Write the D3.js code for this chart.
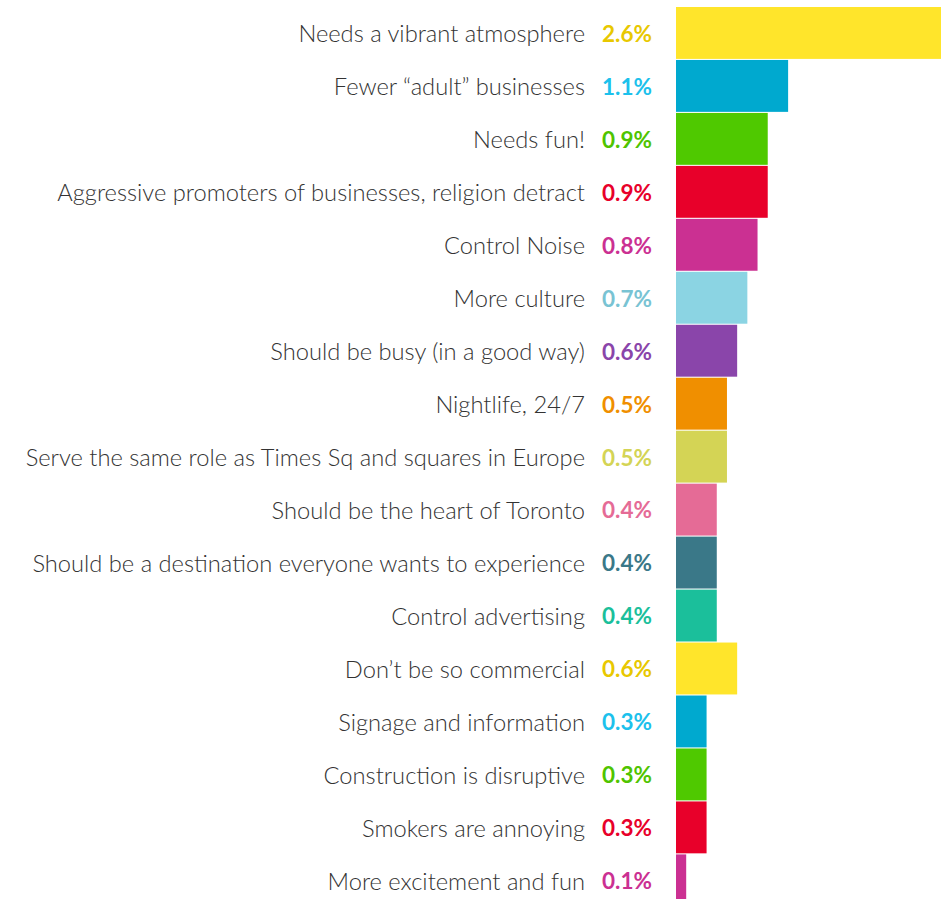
<!DOCTYPE html>
<html>
<head>
<meta charset="utf-8">
<script src="https://cdn.jsdelivr.net/npm/d3@7"></script>
<style>
  html, body { margin: 0; padding: 0; background: #fff; overflow: hidden; }
  svg { display: block; }
</style>
</head>
<body>
<svg id="chart" width="941" height="899"></svg>
<script>
// Responses: what the square should be like
const categories = [
  "Needs a vibrant atmosphere",
  "Fewer \u201cadult\u201d businesses",
  "Needs fun!",
  "Aggressive promoters of businesses, religion detract",
  "Control Noise",
  "More culture",
  "Should be busy (in a good way)",
  "Nightlife, 24/7",
  "Serve the same role as Times Sq and squares in Europe",
  "Should be the heart of Toronto",
  "Should be a destination everyone wants to experience",
  "Control advertising",
  "Don\u2019t be so commercial",
  "Signage and information",
  "Construction is disruptive",
  "Smokers are annoying",
  "More excitement and fun"
];
const values = [2.6, 1.1, 0.9, 0.9, 0.8, 0.7, 0.6, 0.5, 0.5, 0.4, 0.4, 0.4, 0.6, 0.3, 0.3, 0.3, 0.1];
const barColors = [
  "#FFE52B", "#00A9CF", "#4FC900", "#E8002A", "#CB3092", "#8BD4E3",
  "#8A45AA", "#F08F00", "#D4D455", "#E56B96", "#3A7888", "#1BBF9B",
  "#FFE52B", "#00A9CF", "#4FC900", "#E8002A", "#CB3092"
];
const labelColors = [
  "#E8C800", "#1CC1EC", "#4FC400", "#E8002A", "#CB3092", "#79C3D3",
  "#8A45AA", "#F08F00", "#D4D455", "#E56B96", "#3A7888", "#1BBF9B",
  "#E8C800", "#1CC1EC", "#4FC400", "#E8002A", "#CB3092"
];

const svg = d3.select("#chart");
const x = d3.scaleLinear().domain([0, 2.6]).range([676, 941]);
const y = d3.scaleBand().domain(d3.range(categories.length)).range([7, 906.3]).paddingInner(0.02).paddingOuter(0);

const rows = svg.selectAll("g.row").data(categories).join("g").attr("class", "row");

rows.append("rect")
  .attr("x", x(0))
  .attr("y", (d, i) => y(i))
  .attr("width", (d, i) => x(values[i]) - x(0))
  .attr("height", y.bandwidth())
  .attr("fill", (d, i) => barColors[i]);

rows.append("text")
  .attr("x", 585)
  .attr("y", (d, i) => y(i) + y.bandwidth() / 2 + 1)
  .attr("dy", "0.35em")
  .attr("text-anchor", "end")
  .attr("font-family", "Lato, 'Open Sans', sans-serif")
  .attr("font-weight", 300)
  .attr("font-size", 23.7)
  .attr("fill", "#333")
  .text(d => d);

rows.append("text")
  .attr("x", 602)
  .attr("y", (d, i) => y(i) + y.bandwidth() / 2 + 1)
  .attr("dy", "0.35em")
  .attr("font-family", "Lato, 'Open Sans', sans-serif")
  .attr("font-weight", 700)
  .attr("font-size", 22.5)
  .attr("fill", (d, i) => labelColors[i])
  .text((d, i) => d3.format(".1f")(values[i]) + "%");
</script>
</body>
</html>
